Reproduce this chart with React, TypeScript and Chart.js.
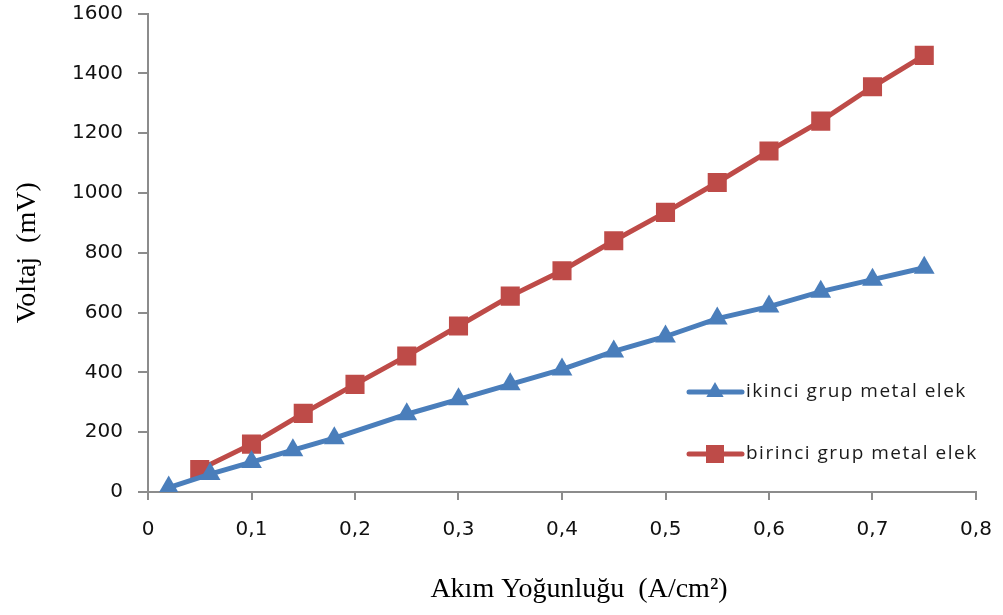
import React, { useEffect, useRef } from "react";
import { Chart, registerables } from "chart.js";

Chart.register(...registerables);

// Current density (A/cm²) and measured voltage (mV)
const ikinciX = [0.02, 0.06, 0.1, 0.14, 0.18, 0.25, 0.3, 0.35, 0.4, 0.45, 0.5, 0.55, 0.6, 0.65, 0.7, 0.75];
const ikinciY = [15, 60, 100, 140, 180, 260, 310, 360, 410, 470, 520, 580, 620, 670, 710, 750];

const birinciX = [0.05, 0.1, 0.15, 0.2, 0.25, 0.3, 0.35, 0.4, 0.45, 0.5, 0.55, 0.6, 0.65, 0.7, 0.75];
const birinciY = [75, 160, 263, 360, 455, 555, 655, 740, 840, 935, 1035, 1140, 1240, 1355, 1460];

const seriesLabels = ["ikinci grup metal elek", "birinci grup metal elek"];
const xTitle = "Akım Yoğunluğu  (A/cm²)";
const yTitle = "Voltaj  (mV)";

const BLUE = "#4A7EBB";
const RED = "#BE4B48";
const AXIS = "#8C8C8C";

const toPoints = (xs: number[], ys: number[]) => xs.map((x, i) => ({ x, y: ys[i] }));

// Legend drawn inside the plot area, right side
const insideLegend = {
  id: "insideLegend",
  afterDraw(chart: any) {
    const ctx = chart.ctx;
    const rows = [392, 454];
    chart.data.datasets.forEach((ds: any, i: number) => {
      const y = rows[i];
      ctx.save();
      ctx.strokeStyle = ds.borderColor;
      ctx.lineWidth = ds.borderWidth;
      ctx.lineCap = "round";
      ctx.beginPath();
      ctx.moveTo(689, y);
      ctx.lineTo(742, y);
      ctx.stroke();
      ctx.fillStyle = ds.backgroundColor;
      ctx.beginPath();
      if (ds.pointStyle === "triangle") {
        const r = 10;
        ctx.moveTo(715, y - r);
        ctx.lineTo(715 + r * 0.866, y + r * 0.5);
        ctx.lineTo(715 - r * 0.866, y + r * 0.5);
        ctx.closePath();
      } else {
        ctx.rect(715 - 9, y - 9, 18, 18);
      }
      ctx.fill();
      ctx.fillStyle = "#1a1a1a";
      ctx.font = "19px 'Open Sans'";
      (ctx as any).letterSpacing = "1.5px";
      ctx.textBaseline = "middle";
      ctx.textAlign = "left";
      ctx.fillText(ds.label, 746, y);
      ctx.restore();
    });
  },
};

// Horizontal axis title
const xAxisTitle = {
  id: "xAxisTitle",
  afterDraw(chart: any) {
    const ctx = chart.ctx;
    ctx.save();
    ctx.fillStyle = "#000";
    ctx.font = "28px 'Liberation Serif'";
    ctx.textAlign = "center";
    ctx.textBaseline = "middle";
    ctx.fillText(xTitle, 579, 590);
    ctx.restore();
  },
};

export default function App() {
  const ref = useRef<HTMLCanvasElement | null>(null);

  useEffect(() => {
    if (!ref.current) return;
    const chart = new Chart(ref.current, {
      type: "line",
      data: {
        datasets: [
          {
            label: seriesLabels[0],
            data: toPoints(ikinciX, ikinciY),
            borderColor: BLUE,
            backgroundColor: BLUE,
            borderWidth: 5,
            pointStyle: "triangle",
            pointRadius: 12,
            pointBorderWidth: 0,
            pointBackgroundColor: BLUE,
          },
          {
            label: seriesLabels[1],
            data: toPoints(birinciX, birinciY),
            borderColor: RED,
            backgroundColor: RED,
            borderWidth: 5,
            pointStyle: "rect",
            pointRadius: 13.5,
            pointBorderWidth: 0,
            pointBackgroundColor: RED,
          },
        ],
      },
      options: {
        responsive: false,
        animation: false,
        layout: { padding: { top: 11, right: 27, bottom: 0, left: 0 } },
        plugins: {
          legend: { display: false },
          tooltip: { enabled: false },
        },
        scales: {
          x: {
            type: "linear",
            min: 0,
            max: 0.8,
            afterFit: (s: any) => {
              s.height = 123;
              s.paddingLeft = 0;
              s.paddingRight = 0;
            },
            ticks: {
              stepSize: 0.1,
              color: "#111",
              font: { family: "'DejaVu Sans'", size: 20 },
              padding: 18,
              maxRotation: 0,
              callback: (v: any) => {
                const n = Number(v);
                return n === 0 ? "0" : n.toFixed(1).replace(".", ",");
              },
            },
            grid: { drawOnChartArea: false, drawTicks: true, tickLength: 8, color: AXIS, lineWidth: 2 },
            border: { color: AXIS, width: 2 },
          },
          y: {
            min: 0,
            max: 1600,
            afterFit: (s: any) => {
              s.width = 148;
              s.paddingTop = 0;
              s.paddingBottom = 0;
            },
            ticks: {
              stepSize: 200,
              color: "#111",
              font: { family: "'DejaVu Sans'", size: 20 },
              padding: 15,
              callback: (v: any) => String(v),
            },
            title: {
              display: true,
              text: yTitle,
              color: "#000",
              font: { family: "'Liberation Serif'", size: 28 },
              padding: { top: 11, bottom: 0 },
            },
            grid: { drawOnChartArea: false, drawTicks: true, tickLength: 10, color: AXIS, lineWidth: 2 },
            border: { color: AXIS, width: 2 },
          },
        },
      },
      plugins: [insideLegend, xAxisTitle],
    });
    return () => chart.destroy();
  }, []);

  return (
    <div style={{ position: "absolute", left: 0, top: 0, width: 1003, height: 615, background: "#fff" }}>
      <canvas ref={ref} width={1003} height={615} />
    </div>
  );
}
